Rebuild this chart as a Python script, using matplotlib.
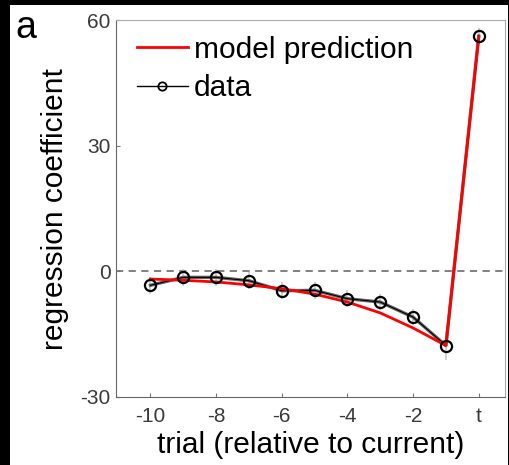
import numpy as np
import matplotlib
matplotlib.use('Agg')
import matplotlib.pyplot as plt
from matplotlib.patches import Rectangle

plt.rcParams['font.family'] = ['Liberation Sans', 'DejaVu Sans']

# trial lags, 0 is the current trial "t"
trials = [-10, -9, -8, -7, -6, -5, -4, -3, -2, -1, 0]
data = [-3.3, -1.4, -1.4, -2.2, -4.6, -4.5, -6.5, -7.3, -10.9, -17.7, 56.3]
data_err = [2.0, 2.0, 2.0, 2.0, 2.0, 2.0, 2.0, 2.0, 2.0, 3.5, 2.0]
model = [-1.8, -2.1, -2.5, -3.2, -4.1, -5.4, -7.3, -9.9, -13.5, -17.7, 56.0]

xticks = [-10, -8, -6, -4, -2, 0]
xticklabels = ['-10', '-8', '-6', '-4', '-2', 't']
yticks = [-30, 0, 30, 60]
yticklabels = ['-30', '0', '30', '60']

fig = plt.figure(figsize=(5.1, 4.65), dpi=100, facecolor='black')
# white panel inside the black frame
fig.patches.append(Rectangle((10/510, 0), 498/510, 460/465, transform=fig.transFigure,
                             facecolor='white', edgecolor='none', zorder=-10))

ax = fig.add_axes([116/510, 1 - 397/465, 389/510, 376.5/465])
ax.set_facecolor('white')

ax.axhline(0, color='#777777', lw=1.3, ls=(0, (4, 3)), zorder=1)

ax.errorbar(trials, data, yerr=data_err, fmt='none', ecolor='#c4c4c4', elinewidth=1.1, zorder=2)
ax.plot(trials, data, color='#666666', lw=2.4, zorder=3)
ax.plot(trials, data, color='black', lw=0.8, zorder=3)
ax.plot(trials, model, color='#ff0000', lw=2, zorder=4, label='model prediction')
ax.plot(trials, data, ls='none', marker='o', ms=8, mfc='none', mec='black', mew=1.6, zorder=5)
# legend handle for data
ax.plot([], [], color='black', lw=1, marker='o', ms=6, mfc='none', mec='black', mew=1.3, label='data')

ax.set_xlim(-11.05, 0.8)
ax.set_ylim(-30, 60)
ax.set_xticks(xticks)
ax.set_xticklabels(xticklabels)
ax.set_yticks(yticks)
ax.set_yticklabels(yticklabels)
ax.tick_params(direction='in', length=3, width=0.8, color='#777777', labelsize=15,
               labelcolor='#3a3a3a')
ax.tick_params(axis='x', pad=7)
ax.tick_params(axis='y', pad=4)

for s in ['left', 'bottom']:
    ax.spines[s].set_color('#666666')
for s in ['top', 'right']:
    ax.spines[s].set_color('#aaaaaa')

ax.set_xlabel('trial (relative to current)', fontsize=21.5, labelpad=4)
ax.set_ylabel('regression coefficient', fontsize=21.5, labelpad=8)

ax.legend(loc='upper left', bbox_to_anchor=(0.054, 0.96), frameon=False, fontsize=21.5,
          handlelength=1.7, handletextpad=0.2, borderpad=0, borderaxespad=0, labelspacing=0.35)

fig.text(15/510, 1 - 38/465, 'a', fontsize=27, color='black')

fig.savefig('out.png', dpi=100, facecolor=fig.get_facecolor())
